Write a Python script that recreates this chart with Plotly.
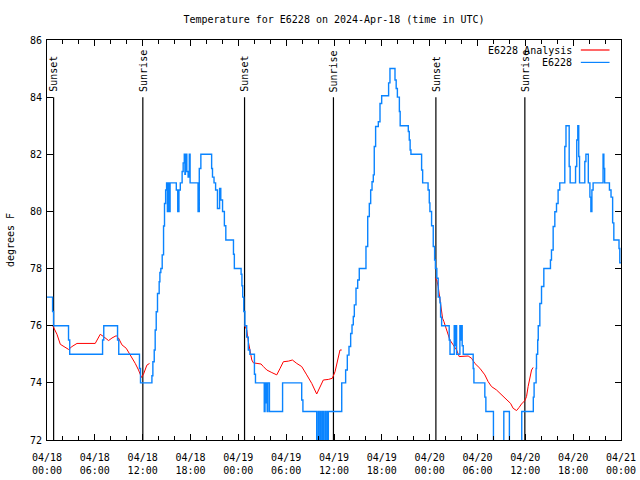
import datetime as dt
import plotly.graph_objects as go

BASE = dt.datetime(2024, 4, 18, 0, 0)

# ---------------- data (hours since 04/18 00:00 UTC, degrees F) ----------------
blue_hours = [0.00, 0.70, 0.82, 2.70, 2.85, 6.97, 7.12, 8.85, 9.00, 11.60, 11.73,
              13.16, 13.28, 13.45, 13.57, 13.70, 13.86, 14.07, 14.16, 14.28, 14.45,
              14.62, 14.74, 14.88, 15.00, 15.10, 15.16, 15.24, 15.30, 15.36, 15.44,
              16.22, 16.40, 16.55, 16.72, 16.95, 17.08, 17.22, 17.30, 17.36, 17.40,
              17.46, 17.54, 17.70, 17.85, 17.95, 18.95, 19.10, 19.30, 20.65, 20.76,
              20.95, 21.15, 21.38, 21.65, 21.80, 22.02, 22.25, 22.43, 23.39, 23.50,
              24.35, 24.45, 24.55, 24.68, 24.82, 25.05, 25.25, 25.45, 26.02, 26.15,
              27.25, 27.35, 27.42, 27.50, 27.62, 27.70, 27.90, 29.55, 31.95, 32.10,
              33.83, 34.02, 34.12, 34.30, 34.40, 34.58, 34.66, 34.85, 34.92, 35.10,
              35.16, 35.29, 36.97, 37.46, 37.67, 37.88, 38.09, 38.26, 38.42, 38.55,
              38.76, 38.97, 39.17, 40.01, 40.23, 40.43, 40.60, 40.77, 40.93, 41.05,
              41.22, 41.56, 41.77, 41.98, 42.85, 43.02, 43.65, 43.80, 43.95, 44.20,
              44.30, 45.32, 45.44, 45.55, 45.65, 46.99, 47.12, 47.80, 47.95, 48.03,
              48.24, 48.45, 48.62, 48.72, 48.90, 49.07, 49.29, 49.37, 49.50, 50.45,
              50.55, 51.08, 51.20, 51.28, 51.38, 51.79, 51.90, 51.98, 52.08, 52.21,
              53.46, 53.55, 54.92, 55.05, 56.00, 57.30, 58.00, 59.55, 61.00, 61.10,
              61.35, 61.40, 61.55, 61.62, 61.82, 62.03, 62.32, 63.15, 63.28, 63.49,
              63.70, 63.91, 64.11, 64.32, 64.95, 65.10, 65.50, 65.62, 66.30, 66.45,
              66.58, 66.70, 66.80, 67.46, 67.60, 67.90, 68.10, 68.22, 68.35, 68.50,
              69.75, 69.85, 69.95, 70.55, 70.75, 70.95, 71.10, 71.75, 71.85, 72.00]
blue_temps = [77, 76.5, 76, 75.5, 75, 75.5, 76, 75.5, 75, 74.5, 74,
              74.25, 74.74, 75.15, 75.85, 76.49, 77.13, 77.54, 77.86, 78.0, 78.48,
              79.49, 80.28, 80.75, 81, 80, 81, 80, 81, 80, 81,
              80.75, 80, 80.75, 81, 81.4, 81.7, 82, 81.3, 82, 81.5,
              82, 81.4, 81.2, 82, 81, 80, 81.5, 82, 81.5, 81.2,
              81, 80.75, 80.1, 80.8, 80.4, 80, 79.5, 79, 78.5, 78,
              77.8, 77.4, 77, 76.5, 76, 75.6, 75.15, 75, 74.3, 74,
              73, 74, 73.3, 74, 73, 74, 73, 74, 73.4, 73,
              71, 73, 71, 73, 71, 73, 71, 73, 71, 73,
              71, 73, 74, 74.45, 74.97, 75.27, 75.73, 76.03, 76.32, 76.73,
              77.31, 77.6, 78, 78.77, 79.82, 80.28, 80.75, 81.04, 81.28, 82.27,
              82.97, 83.14, 83.78, 84.05, 84.5, 85, 84.6, 84.3, 84, 83.5,
              83, 82.8, 82.5, 82.15, 82, 81.45, 81, 80.75, 80.3, 80,
              79.5, 78.77, 78.3, 78, 77.66, 77, 76.8, 76.3, 76, 75.5,
              75, 76, 75.3, 76, 75, 76, 75.5, 76, 75.3, 75,
              74.5, 74, 73.5, 73, 71, 73, 71, 73, 73.5, 74,
              74.5, 75, 75.5, 76, 76.78, 77.37, 78, 78.3, 78.65, 79.47,
              79.99, 80.28, 80.75, 81, 82.27, 83, 81.57, 81, 81.57, 82.5,
              83, 81.92, 81, 81.75, 82, 81, 80.5, 80, 80.75, 81,
              82, 81.5, 81, 80.75, 80.5, 79.6, 79, 78.7, 78.2, 78.2]

red_hours_1 = [0.72, 1.25, 1.67, 2.08, 2.71, 3.13, 3.76, 6.05, 6.68, 7.09, 7.72, 8.15,
               8.68, 8.97, 9.40, 9.94, 10.44, 11.07, 11.48, 11.85, 12.10, 12.53, 12.86]
red_temps_1 = [76.0, 75.7, 75.35, 75.29, 75.17, 75.27, 75.38, 75.38, 75.7, 75.62, 75.48,
               75.57, 75.65, 75.57, 75.33, 75.21, 74.98, 74.68, 74.45, 74.19, 74.3, 74.62, 74.68]
red_hours_2 = [24.76, 25.06, 25.26, 25.48, 25.69, 25.89, 26.32, 26.85, 27.14, 27.57, 28.2,
               28.82, 29.24, 29.65, 30.28, 30.78, 31.33, 31.95, 32.58, 33.21, 33.83, 34.25,
               34.66, 35.29, 35.79, 36.13, 36.34, 36.54, 36.75, 36.97]
red_temps_2 = [76.03, 75.85, 75.44, 75.09, 74.8, 74.7, 74.68, 74.66, 74.57, 74.45, 74.36,
               74.28, 74.51, 74.74, 74.76, 74.8, 74.68, 74.57, 74.28, 73.98, 73.61, 73.87,
               74.1, 74.12, 74.16, 74.39, 74.68, 74.98, 75.15, 75.15]
red_hours_3 = [48.66, 48.9, 49.07, 49.2, 49.37, 49.5, 49.62, 49.79, 50.13, 50.54, 50.95,
               51.38, 51.7, 52.21, 52.83, 53.26, 53.67, 54.3, 54.92, 55.34, 55.76, 56.39,
               57.02, 57.64, 58.15, 58.47, 58.9, 59.22, 59.52, 59.94, 60.15, 60.35, 60.56,
               60.78, 60.98]
red_temps_3 = [77.66, 77.6, 77.37, 77.13, 76.9, 76.49, 76.26, 76.14, 75.85, 75.5, 75.33,
               75.15, 74.92, 74.92, 74.94, 74.86, 74.68, 74.51, 74.28, 74.04, 73.87, 73.75,
               73.58, 73.4, 73.28, 73.11, 73.03, 73.14, 73.26, 73.38, 73.52, 73.87, 74.16,
               74.45, 74.54]

sun_hours = [0.83, 12.02, 24.78, 35.93, 48.78, 59.94]
sun_labels = ["Sunset", "Sunrise", "Sunset", "Sunrise", "Sunset", "Sunrise"]
sun_line_bottom, sun_line_top = 72, 84

tick_hours = [0, 6, 12, 18, 24, 30, 36, 42, 48, 54, 60, 66, 72]
tick_labels = ["04/18<br>00:00", "04/18<br>06:00", "04/18<br>12:00", "04/18<br>18:00",
               "04/19<br>00:00", "04/19<br>06:00", "04/19<br>12:00", "04/19<br>18:00",
               "04/20<br>00:00", "04/20<br>06:00", "04/20<br>12:00", "04/20<br>18:00",
               "04/21<br>00:00"]

series_names = ["E6228 Analysis", "E6228"]
series_colors = ["#ff0000", "#0a84ff"]


def t(h):
    return BASE + dt.timedelta(hours=h)


FONT = "DejaVu Sans Mono"
fig = go.Figure()

# sunrise / sunset vertical lines
sx, sy = [], []
for h in sun_hours:
    sx += [t(h), t(h), None]
    sy += [sun_line_bottom, sun_line_top, None]
fig.add_trace(go.Scatter(x=sx, y=sy, mode="lines", line=dict(color="black", width=1.2),
                         hoverinfo="skip", showlegend=False))

# analysis (red), in three segments
rx, ry = [], []
for hs, ts in [(red_hours_1, red_temps_1), (red_hours_2, red_temps_2), (red_hours_3, red_temps_3)]:
    rx += [t(h) for h in hs] + [None]
    ry += list(ts) + [None]
fig.add_trace(go.Scatter(x=rx, y=ry, mode="lines", name=series_names[0],
                         line=dict(color=series_colors[0], width=1), connectgaps=False))

# observations (blue), step line
fig.add_trace(go.Scatter(x=[t(h) for h in blue_hours], y=blue_temps, mode="lines",
                         name=series_names[1],
                         line=dict(color=series_colors[1], width=1.4, shape="hv")))

annotations = []
for h, lab in zip(sun_hours, sun_labels):
    annotations.append(dict(x=t(h), y=sun_line_top, xref="x", yref="y", text=lab,
                            textangle=-90, showarrow=False, xanchor="center",
                            yanchor="bottom", yshift=3,
                            font=dict(family=FONT, size=10, color="black")))

# gnuplot-style key (text left, sample line right), top-right inside plot
key_rows_y = [0.975, 0.944]
shapes = []
for name, col, yy in zip(series_names, series_colors, key_rows_y):
    annotations.append(dict(x=0.9177, y=yy, xref="paper", yref="paper", text=name,
                            showarrow=False, xanchor="right", yanchor="middle",
                            font=dict(family=FONT, size=10, color="black")))
    shapes.append(dict(type="line", xref="paper", yref="paper", x0=0.930, x1=0.980,
                       y0=yy, y1=yy, line=dict(color=col, width=1.2)))

fig.update_layout(
    width=640, height=480,
    margin=dict(l=47, r=19, t=40, b=40),
    paper_bgcolor="white", plot_bgcolor="white",
    font=dict(family=FONT, size=10, color="black"),
    showlegend=False,
    title=dict(text="Temperature for E6228 on 2024-Apr-18 (time in UTC)",
               x=334 / 640, xanchor="center", y=1 - 19 / 480, yanchor="middle",
               font=dict(family=FONT, size=10, color="black")),
    annotations=annotations,
    shapes=shapes,
)
fig.update_xaxes(
    type="date", range=[t(0), t(72)], automargin=False,
    tickmode="array", tickvals=[t(h) for h in tick_hours], ticktext=tick_labels,
    ticks="inside", ticklen=6, tickwidth=1, tickcolor="black",
    ticklabelstandoff=8,
    showline=True, linecolor="black", linewidth=1, mirror="allticks",
    showgrid=False, zeroline=False,
    minor=dict(ticks="inside", ticklen=4, tickcolor="black", dtick=2 * 3600 * 1000,
               tick0=t(0), showgrid=False),
    tickfont=dict(family=FONT, size=10, color="black"),
)
fig.update_yaxes(
    range=[72, 86], tick0=72, dtick=2, automargin=False,
    ticks="inside", ticklen=6, tickwidth=1, tickcolor="black",
    ticklabelstandoff=2,
    showline=True, linecolor="black", linewidth=1, mirror="allticks",
    showgrid=False, zeroline=False,
    title=dict(text="degrees F", standoff=13, font=dict(family=FONT, size=10, color="black")),
    tickfont=dict(family=FONT, size=10, color="black"),
)

fig.write_html("out.html", config={"displayModeBar": False},
               post_script="document.body.style.margin='0';document.body.style.padding='0';")
